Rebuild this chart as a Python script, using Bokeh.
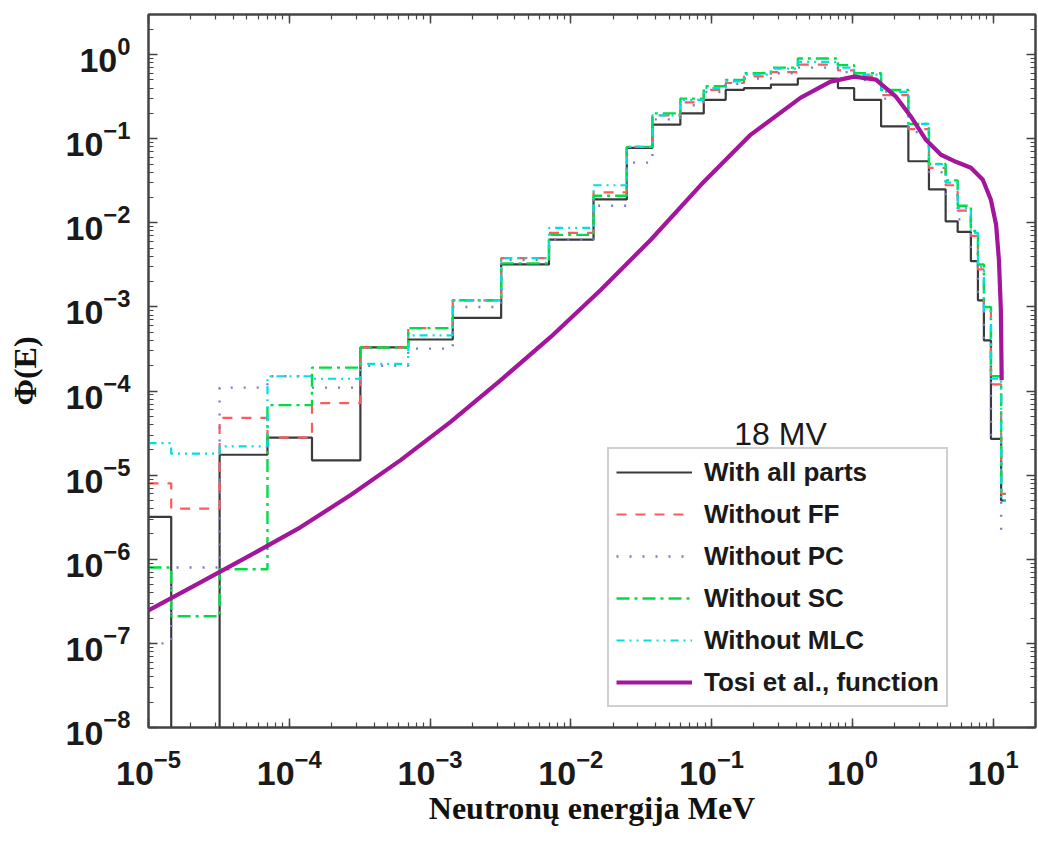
from bokeh.plotting import figure
from bokeh.models import (LogAxis, LogTicker, Legend, LegendItem, Label, Range1d,
                          CustomJSTickFormatter)
from bokeh.embed import file_html
from bokeh.resources import INLINE

# ---- data ----
edges = [1e-5, 1.45e-5, 3.2e-5, 7e-5, 1.45e-4, 3.2e-4, 7e-4, 1.45e-3, 3.2e-3, 7e-3,
         1.45e-2, 2.5e-2, 3.8e-2, 6e-2, 8.8e-2, 0.126, 0.17, 0.264, 0.41, 0.79,
         1.03, 1.6, 2.5, 3.5, 4.6, 5.6, 6.95, 7.8, 8.6, 9.65, 11.4, 12.3]

with_all = [3.2e-6, 0, 1.75e-5, 2.8e-5, 1.5e-5, 3.3e-4, 4.1e-4, 7.4e-4, 3.2e-3, 6.3e-3,
            1.9e-2, 7.8e-2, 0.147, 0.2, 0.29, 0.38, 0.40, 0.44, 0.52, 0.40,
            0.29, 0.14, 0.054, 0.025, 0.0104, 0.0078, 0.0035, 1.2e-3, 4e-4, 2.7e-5, 5e-6]

without_ff = [8e-6, 4e-6, 4.8e-5, 2.8e-5, 7.2e-5, 3.3e-4, 5.6e-4, 1.2e-3, 3.8e-3, 7.6e-3,
              2.3e-2, 8e-2, 0.19, 0.27, 0.38, 0.46, 0.55, 0.62, 0.76, 0.65,
              0.55, 0.33, 0.13, 0.045, 0.028, 0.014, 0.007, 2.8e-3, 9e-4, 1.2e-4, 6e-6]

without_pc = [1e-7, 8e-7, 1.1e-4, 1.5e-4, 1.1e-4, 2e-4, 3.2e-4, 1e-3, 3.6e-3, 6.3e-3,
              1.6e-2, 5.2e-2, 0.17, 0.25, 0.36, 0.45, 0.52, 0.6, 0.7, 0.62,
              0.5, 0.3, 0.12, 0.04, 0.022, 0.011, 4.5e-3, 1.5e-3, 4e-4, 3e-5, 2e-6]

without_sc = [8e-7, 2.1e-7, 7.6e-7, 6.8e-5, 1.9e-4, 3.3e-4, 5.6e-4, 1.2e-3, 3.3e-3, 7.2e-3,
              2.1e-2, 8e-2, 0.2, 0.3, 0.42, 0.5, 0.6, 0.7, 0.9, 0.75,
              0.6, 0.38, 0.15, 0.05, 0.032, 0.016, 0.008, 3.2e-3, 1e-3, 1.5e-4, 6e-6]

without_mlc = [2.4e-5, 1.8e-5, 2.2e-5, 1.5e-4, 1.4e-4, 2.1e-4, 4.6e-4, 1.2e-3, 3.8e-3, 8.7e-3,
               2.8e-2, 8e-2, 0.19, 0.29, 0.4, 0.48, 0.58, 0.68, 0.82, 0.7,
               0.58, 0.36, 0.15, 0.05, 0.03, 0.015, 0.0076, 3e-3, 9e-4, 1.4e-4, 5e-6]

tosi_e = [1e-5, 2.34e-5, 5.31e-5, 1.2e-4, 2.73e-4, 6.18e-4, 1.4e-3, 3.18e-3, 7.2e-3,
          1.63e-2, 3.7e-2, 8.4e-2, 0.19, 0.43, 0.70, 1.03, 1.47, 2.04, 2.61, 3.33,
          4.26, 5.44, 6.95, 8.45, 9.64, 10.5, 11.0, 11.35, 11.5]
tosi_phi = [2.47e-7, 5.3e-7, 1.12e-6, 2.4e-6, 5.8e-6, 1.51e-5, 4.3e-5, 1.35e-4, 4.4e-4,
            1.59e-3, 6.3e-3, 2.83e-2, 0.112, 0.308, 0.477, 0.547, 0.504, 0.316, 0.183, 0.097,
            0.0645, 0.0532, 0.0452, 0.0325, 0.0188, 9.5e-3, 3.6e-3, 9.2e-4, 1.35e-4]

labels = ["With all parts", "Without FF", "Without PC", "Without SC", "Without MLC",
          "Tosi et al., function"]

FLOOR = 1e-12

p = figure(width=1038, height=843, x_axis_type="log", y_axis_type="log",
           x_range=Range1d(1e-5, 20), y_range=Range1d(1e-8, 3),
           output_backend="svg", toolbar_location=None,
           min_border_left=148, min_border_right=3, min_border_top=14,
           min_border_bottom=116, background_fill_color="white",
           border_fill_color="white")
p.xgrid.visible = False
p.ygrid.visible = False
p.outline_line_color = "#444444"
p.outline_line_width = 2

AX = "#444444"
TICK_FONT = "Liberation Sans"

def style_axis(ax, show_labels=True):
    ax.axis_line_color = AX
    ax.axis_line_width = 2
    ax.major_tick_line_color = AX
    ax.minor_tick_line_color = AX
    ax.major_tick_line_width = 1.5
    ax.minor_tick_line_width = 1.2
    ax.major_tick_in = 9
    ax.major_tick_out = 0
    ax.minor_tick_in = 5
    ax.minor_tick_out = 0
    if show_labels:
        ax.major_label_text_font = TICK_FONT
        ax.major_label_text_font_style = "bold"
        ax.major_label_text_font_size = "34px"
        ax.major_label_text_color = "#1a1a1a"
    else:
        ax.formatter = CustomJSTickFormatter(code="return '';")
        ax.major_label_text_font_size = "2px"
        ax.major_label_standoff = 0

xt = LogTicker(desired_num_ticks=8, num_minor_ticks=10)
yt = LogTicker(desired_num_ticks=10, num_minor_ticks=10)

xb = p.below[0]
yl = p.left[0]
xb.ticker = xt
yl.ticker = yt
style_axis(xb)
style_axis(yl)
xb.major_label_standoff = 22
yl.major_label_standoff = 18

xb.axis_label = "Neutronų energija MeV"
yl.axis_label = "Φ(E)"
for ax in (xb, yl):
    ax.axis_label_text_font = "Liberation Serif"
    ax.axis_label_text_font_style = "bold"
    ax.axis_label_text_font_size = "32px"
    ax.axis_label_text_color = "#111111"
xb.axis_label_standoff = 2
yl.axis_label_standoff = 20

top_ax = LogAxis(ticker=xt)
right_ax = LogAxis(ticker=yt)
style_axis(top_ax, False)
style_axis(right_ax, False)
p.add_layout(top_ax, "above")
p.add_layout(right_ax, "right")

def step_xy(vals):
    ys = [v if v > 0 else FLOOR for v in vals]
    return edges, ys + [ys[-1]]

styles = [
    (with_all, dict(line_color="#3a3a3a", line_width=2.2)),
    (without_ff, dict(line_color="#ff5a5a", line_width=2.2, line_dash="10 9")),
    (without_pc, dict(line_color="#7c7cc8", line_width=2.4, line_dash="2 11")),
    (without_sc, dict(line_color="#00dd44", line_width=2.4, line_dash="13 5 3 5")),
    (without_mlc, dict(line_color="#00e0e0", line_width=2.2, line_dash="8 5 2 5 2 5")),
]

renderers = []
for vals, st in styles:
    xs, ys = step_xy(vals)
    r = p.step(xs, ys, mode="after", **st)
    renderers.append(r)

r_tosi = p.line(tosi_e, tosi_phi, line_color="#a3169c", line_width=4.2, line_join="round")
renderers.append(r_tosi)

legend = Legend(items=[LegendItem(label=l, renderers=[r]) for l, r in zip(labels, renderers)],
                location=(459, 20), orientation="vertical")
legend.label_text_font = TICK_FONT
legend.label_text_font_style = "bold"
legend.label_text_font_size = "26px"
legend.label_text_color = "#1a1a1a"
legend.glyph_width = 76
legend.glyph_height = 32
legend.label_height = 32
legend.label_standoff = 12
legend.spacing = 10
legend.padding = 7
legend.margin = 0
legend.border_line_color = "#a0a0a0"
legend.border_line_width = 2
legend.background_fill_color = "white"
legend.background_fill_alpha = 1
p.add_layout(legend)

title_lbl = Label(x=632, y=294, x_units="screen", y_units="screen", text="18 MV",
                  text_font=TICK_FONT, text_font_size="32px", text_align="center",
                  text_baseline="middle", text_color="#1a1a1a")
p.add_layout(title_lbl)

open("out.html", "w").write(file_html(p, INLINE))
